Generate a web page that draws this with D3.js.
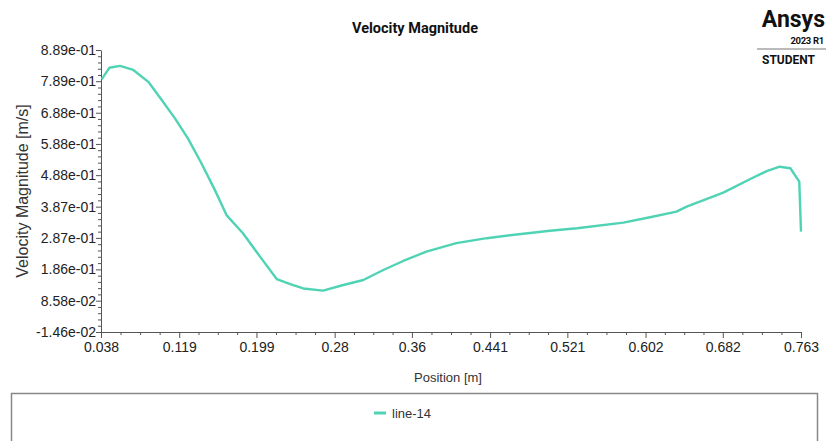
<!DOCTYPE html>
<html>
<head>
<meta charset="utf-8">
<script src="https://cdn.jsdelivr.net/npm/d3@7"></script>
<style>
  body { margin: 0; background: #fff; }
  svg { display: block; }
  .tick-label { font-family: "Liberation Sans", Arial, sans-serif; font-size: 14px; fill: #222; }
</style>
</head>
<body>
<div id="chart"></div>
<script>
// data
const positions = [0.0387, 0.0466, 0.0577, 0.0715, 0.087, 0.1009, 0.1146, 0.128, 0.142, 0.156,
  0.168, 0.185, 0.2027, 0.22, 0.234, 0.2475, 0.268, 0.289, 0.3097, 0.3304,
  0.351, 0.375, 0.406, 0.4375, 0.4685, 0.503, 0.531, 0.579, 0.6066, 0.634,
  0.6446, 0.6825, 0.71, 0.7275, 0.741, 0.752, 0.7612, 0.763];
const velocity = [0.795, 0.832, 0.838, 0.825, 0.787, 0.729, 0.670, 0.606, 0.526, 0.440,
  0.360, 0.302, 0.227, 0.155, 0.139, 0.125, 0.118, 0.136, 0.152, 0.184,
  0.213, 0.243, 0.270, 0.286, 0.298, 0.310, 0.318, 0.336, 0.353, 0.371,
  0.387, 0.432, 0.475, 0.501, 0.515, 0.510, 0.467, 0.307];

const xTicks = [0.038, 0.119, 0.199, 0.28, 0.36, 0.441, 0.521, 0.602, 0.682, 0.763];
const xTickLabels = ["0.038", "0.119", "0.199", "0.28", "0.36", "0.441", "0.521", "0.602", "0.682", "0.763"];
const yTicks = [-0.0146, 0.0858, 0.186, 0.287, 0.387, 0.488, 0.588, 0.688, 0.789, 0.889];
const yTickLabels = ["-1.46e-02", "8.58e-02", "1.86e-01", "2.87e-01", "3.87e-01",
  "4.88e-01", "5.88e-01", "6.88e-01", "7.89e-01", "8.89e-01"];

const width = 826, height = 441;
const margin = { top: 50, right: 25, bottom: 109, left: 101 };

const svg = d3.select("#chart").append("svg")
  .attr("width", width)
  .attr("height", height);

const innerW = width - margin.left - margin.right;
const innerH = height - margin.top - margin.bottom;

const x = d3.scaleLinear().domain([xTicks[0], xTicks[xTicks.length - 1]]).range([0, innerW]);
const y = d3.scaleLinear().domain([yTicks[0], yTicks[yTicks.length - 1]]).range([innerH, 0]);

const g = svg.append("g")
  .attr("transform", "translate(" + margin.left + "," + margin.top + ")");

// minor ticks between the labelled ones
function minors(ticks, n) {
  const out = [];
  for (let i = 0; i < ticks.length - 1; i++) {
    const step = (ticks[i + 1] - ticks[i]) / n;
    for (let k = 1; k < n; k++) out.push(ticks[i] + k * step);
  }
  return out;
}

const axisColor = "#555";

g.append("g")
  .attr("transform", "translate(0," + innerH + ")")
  .call(d3.axisBottom(x).tickValues(minors(xTicks, 4)).tickSize(3).tickFormat(""))
  .call((s) => s.select(".domain").remove())
  .selectAll("line").attr("stroke", axisColor);

g.append("g")
  .attr("transform", "translate(0," + innerH + ")")
  .call(d3.axisBottom(x).tickValues(xTicks).tickSize(6).tickSizeOuter(0)
    .tickFormat((d, i) => xTickLabels[i]))
  .call((s) => {
    s.select(".domain").attr("stroke", axisColor);
    s.selectAll("line").attr("stroke", axisColor);
    s.selectAll("text").attr("class", "tick-label").attr("dy", "0.9em").attr("y", 7);
  });

g.append("g")
  .call(d3.axisLeft(y).tickValues(minors(yTicks, 5)).tickSize(3).tickFormat(""))
  .call((s) => s.select(".domain").remove())
  .selectAll("line").attr("stroke", axisColor);

g.append("g")
  .call(d3.axisLeft(y).tickValues(yTicks).tickSize(5).tickSizeOuter(0)
    .tickFormat((d, i) => yTickLabels[i]))
  .call((s) => {
    s.select(".domain").attr("stroke", axisColor);
    s.selectAll("line").attr("stroke", axisColor);
    s.selectAll("text").attr("class", "tick-label").attr("x", -5);
  });

// the curve
const line = d3.line()
  .x((d, i) => x(positions[i]))
  .y((d) => y(d));

g.append("path")
  .datum(velocity)
  .attr("fill", "none")
  .attr("stroke", "#4fd3b4")
  .attr("stroke-width", 2.4)
  .attr("stroke-linejoin", "round")
  .attr("d", line);

// titles
svg.append("text")
  .attr("x", 415)
  .attr("y", 33)
  .attr("text-anchor", "middle")
  .style("font-family", "Roboto, sans-serif")
  .style("font-weight", "700")
  .style("font-size", "14.5px")
  .style("fill", "#111")
  .text("Velocity Magnitude");

svg.append("text")
  .attr("transform", "translate(28," + (margin.top + innerH / 2) + ") rotate(-90)")
  .attr("text-anchor", "middle")
  .style("font-family", "Liberation Sans, Arial, sans-serif")
  .style("font-size", "16px")
  .style("fill", "#333")
  .text("Velocity Magnitude [m/s]");

svg.append("text")
  .attr("x", margin.left + innerW / 2 - 3)
  .attr("y", 382)
  .attr("text-anchor", "middle")
  .style("font-family", "Liberation Sans, Arial, sans-serif")
  .style("font-size", "13px")
  .style("fill", "#333")
  .text("Position [m]");

// Ansys badge
const badge = svg.append("g");
badge.append("text")
  .attr("x", 825).attr("y", 27)
  .attr("text-anchor", "end")
  .style("font-family", "Roboto, sans-serif")
  .style("font-weight", "700")
  .style("font-size", "23px")
  .style("fill", "#111")
  .text("Ansys");
badge.append("text")
  .attr("x", 824).attr("y", 44)
  .attr("text-anchor", "end")
  .style("font-family", "Roboto, sans-serif")
  .style("font-weight", "700")
  .style("font-size", "9.5px")
  .style("letter-spacing", "-0.3px")
  .style("fill", "#111")
  .text("2023 R1");
badge.append("line")
  .attr("x1", 757).attr("x2", 826)
  .attr("y1", 49).attr("y2", 49)
  .attr("stroke", "#777").attr("stroke-width", 1);
badge.append("text")
  .attr("x", 762).attr("y", 64)
  .style("font-family", "Roboto, sans-serif")
  .style("font-weight", "700")
  .style("font-size", "12px")
  .style("fill", "#111")
  .text("STUDENT");

// legend box
svg.append("rect")
  .attr("x", 11.5).attr("y", 393.5)
  .attr("width", 806).attr("height", 60)
  .attr("fill", "#fff")
  .attr("stroke", "#888")
  .attr("stroke-width", 1.5);

svg.append("line")
  .attr("x1", 374).attr("x2", 386)
  .attr("y1", 413).attr("y2", 413)
  .attr("stroke", "#4fd3b4")
  .attr("stroke-width", 3);

svg.append("text")
  .attr("x", 392).attr("y", 418)
  .style("font-family", "Liberation Sans, Arial, sans-serif")
  .style("font-size", "13px")
  .style("fill", "#333")
  .text("line-14");
</script>
</body>
</html>
